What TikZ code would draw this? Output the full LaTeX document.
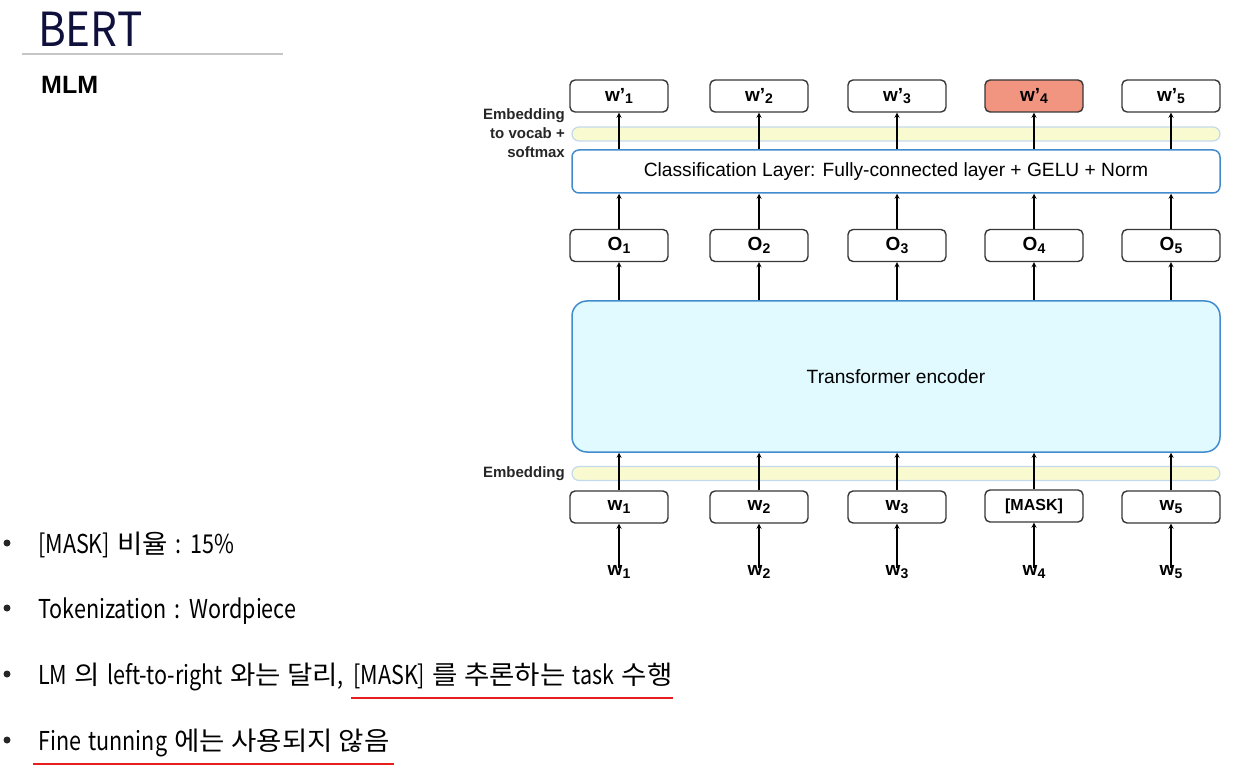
\documentclass[tikz,border=0pt]{standalone}
\usepackage{fontspec}
\setmainfont{Liberation Sans}
\newfontfamily\krfont[FakeStretch=0.83, WordSpace=1.5]{Noto Sans CJK KR}
\newfontfamily\hangul[FakeStretch=1.06]{Noto Sans CJK KR}
\newfontfamily\titlefont[FakeStretch=0.9]{Noto Sans CJK KR}
\usetikzlibrary{positioning}
\definecolor{boxline}{RGB}{55,55,55}
\definecolor{layerblue}{RGB}{66,140,206}
\definecolor{encfill}{RGB}{224,250,255}
\definecolor{barfill}{RGB}{250,250,208}
\definecolor{barline}{RGB}{195,218,236}
\definecolor{maskfill}{RGB}{241,148,128}
\definecolor{titleblue}{RGB}{16,16,60}
\definecolor{ulred}{RGB}{230,30,30}
\newcommand{\idx}[1]{\raisebox{-0.28ex}{\fontsize{14}{14}\selectfont #1}}
\newcommand{\ko}[1]{{\hangul #1}}
\tikzset{
	tok/.style={draw=boxline, line width=1.4pt, rounded corners=5pt, minimum width=98pt, minimum height=32pt, inner sep=0pt, font=\bfseries\fontsize{19}{21}\selectfont},
	layer/.style={draw=layerblue, line width=1.5pt, rounded corners=7pt, minimum width=648pt, inner sep=0pt, font=\fontsize{19.2}{21}\selectfont},
	bar/.style={draw=barline, line width=1.2pt, fill=barfill, rounded corners=7pt, minimum width=648pt, minimum height=14pt, inner sep=0pt},
	side/.style={font=\bfseries\fontsize{15}{19}\selectfont, text=black!85, align=right, anchor=east, inner sep=0pt},
	word/.style={font=\bfseries\fontsize{19}{21}\selectfont, inner sep=0pt},
	item/.style={font=\krfont\fontsize{26}{30}\selectfont, anchor=base west, inner sep=0pt},
	dot/.style={circle, fill=black!85, minimum size=7pt, inner sep=0pt},
	flow/.style={->, line width=1.2pt},
	mark line/.style={draw=ulred, line width=2pt},
}
\begin{document}
\begin{tikzpicture}[>=stealth, x=1pt, y=-1pt, line join=round]
		\useasboundingbox (0, 0) rectangle (1235, 767);
		% Title
		\node[anchor=base west, inner sep=0pt, text=titleblue, font=\titlefont\fontsize{47}{50}\selectfont] (title) at (38, 47) {BERT};
		\draw[gray!45, line width=1.5pt] (22, 54) -- (283, 54);
		\node[anchor=base west, inner sep=0pt, font=\bfseries\fontsize{25}{28}\selectfont] (mlm) at (41, 94) {MLM};
		% Output tokens
		\node[tok] (out1) at (619, 96) {w’\idx{1}};
		\node[tok] (out2) at (759, 96) {w’\idx{2}};
		\node[tok] (out3) at (897, 96) {w’\idx{3}};
		\node[tok, fill=maskfill] (out4) at (1034, 96) {w’\idx{4}};
		\node[tok] (out5) at (1171, 96) {w’\idx{5}};
		% Vocab projection and classification layer
		\node[bar] (vocab) at (896, 134) {};
		\node[side] (vocablbl) at (565, 133) {Embedding\\to vocab +\\softmax};
		\node[layer, minimum height=43pt] (cls) at (896, 171.5) {Classification Layer: Fully-connected layer + GELU + Norm};
		% Encoder outputs
		\node[tok] (o1) at (619, 245.5) {O\idx{1}};
		\node[tok] (o2) at (759, 245.5) {O\idx{2}};
		\node[tok] (o3) at (897, 245.5) {O\idx{3}};
		\node[tok] (o4) at (1034, 245.5) {O\idx{4}};
		\node[tok] (o5) at (1171, 245.5) {O\idx{5}};
		% Encoder
		\node[layer, fill=encfill, rounded corners=15pt, minimum height=151pt] (enc) at (896, 376.5) {Transformer encoder};
		% Input embedding
		\node[bar] (emb) at (896, 473.5) {};
		\node[side] (emblbl) at (565, 473.5) {Embedding};
		\node[tok] (in1) at (619, 507) {w\idx{1}};
		\node[tok] (in2) at (759, 507) {w\idx{2}};
		\node[tok] (in3) at (897, 507) {w\idx{3}};
		\node[tok, font=\bfseries\fontsize{16}{18}\selectfont] (in4) at (1034, 506) {[MASK]};
		\node[tok] (in5) at (1171, 507) {w\idx{5}};
		\node[word] (w1) at (619, 572) {w\idx{1}};
		\node[word] (w2) at (759, 572) {w\idx{2}};
		\node[word] (w3) at (897, 572) {w\idx{3}};
		\node[word] (w4) at (1034, 572) {w\idx{4}};
		\node[word] (w5) at (1171, 572) {w\idx{5}};
		% Arrows
		\draw[flow] ([yshift=-3pt]w1.north) -- (in1.south);
		\draw[flow] ([yshift=-3pt]w2.north) -- (in2.south);
		\draw[flow] ([yshift=-3pt]w3.north) -- (in3.south);
		\draw[flow] ([yshift=-3pt]w4.north) -- (in4.south);
		\draw[flow] ([yshift=-3pt]w5.north) -- (in5.south);
		\draw[flow] (in1.north) -- (in1 |- enc.south);
		\draw[flow] (in2.north) -- (in2 |- enc.south);
		\draw[flow] (in3.north) -- (in3 |- enc.south);
		\draw[flow] (in4.north) -- (in4 |- enc.south);
		\draw[flow] (in5.north) -- (in5 |- enc.south);
		\draw[flow] (o1 |- enc.north) -- (o1.south);
		\draw[flow] (o2 |- enc.north) -- (o2.south);
		\draw[flow] (o3 |- enc.north) -- (o3.south);
		\draw[flow] (o4 |- enc.north) -- (o4.south);
		\draw[flow] (o5 |- enc.north) -- (o5.south);
		\draw[flow] (o1.north) -- (o1 |- cls.south);
		\draw[flow] (o2.north) -- (o2 |- cls.south);
		\draw[flow] (o3.north) -- (o3 |- cls.south);
		\draw[flow] (o4.north) -- (o4 |- cls.south);
		\draw[flow] (o5.north) -- (o5 |- cls.south);
		\draw[flow] (out1 |- cls.north) -- (out1.south);
		\draw[flow] (out2 |- cls.north) -- (out2.south);
		\draw[flow] (out3 |- cls.north) -- (out3.south);
		\draw[flow] (out4 |- cls.north) -- (out4.south);
		\draw[flow] (out5 |- cls.north) -- (out5.south);
		% Bullet points
		\node[dot] (d1) at (7, 543) {};
		\node[item] (b1) at (38, 553) {[MASK] \ko{비율} : 15\%};
		\node[dot] (d2) at (7, 608) {};
		\node[item] (b2) at (38, 618) {Tokenization : Wordpiece};
		\node[dot] (d3) at (7, 674) {};
		\node[item] (b3) at (38, 684) {LM \ko{의} left-to-right \ko{와는 달리},};
		\node[item, xshift=9pt] (b3m) at (b3.base east) {[MASK] \ko{를 추론하는} task \ko{수행}};
		\node[dot] (d4) at (7, 740) {};
		\node[item] (b4) at (38, 750) {Fine tunning \ko{에는 사용되지 않음}};
		\draw[mark line] ([xshift=-2pt, yshift=-14pt]b3m.base west) -- ([yshift=-14pt]b3m.base east);
		\draw[mark line] ([xshift=-5pt, yshift=-14pt]b4.base west) -- ([xshift=4pt, yshift=-14pt]b4.base east);
	\end{tikzpicture}
\end{document}
